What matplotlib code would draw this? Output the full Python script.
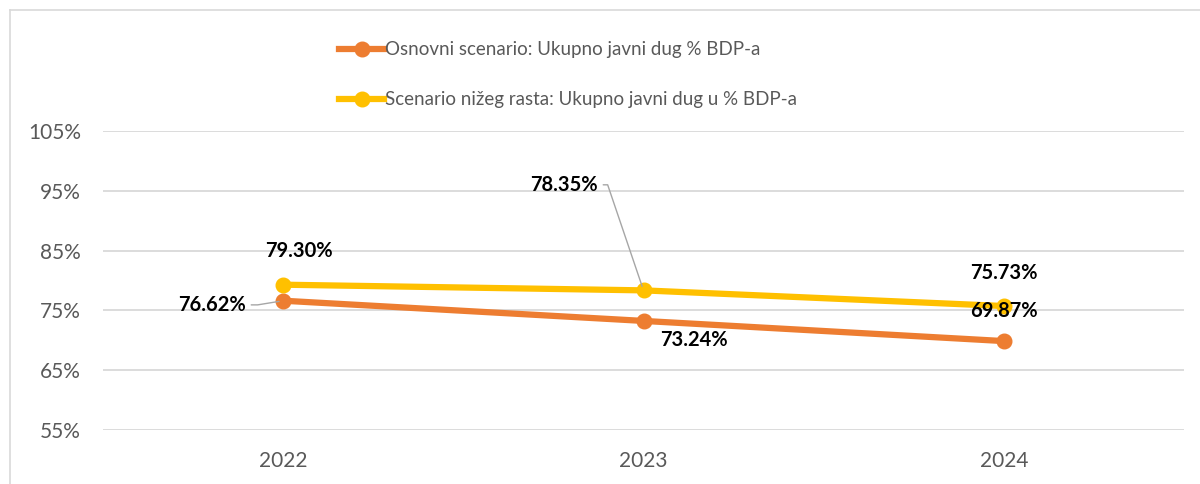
import matplotlib.pyplot as plt
from matplotlib.lines import Line2D
from matplotlib.ticker import FuncFormatter

plt.rcParams['font.family'] = ['Lato', 'DejaVu Sans']

years = ['2022', '2023', '2024']
osnovni = [76.62, 73.24, 69.87]
nizi_rast = [79.30, 78.35, 75.73]
y_ticks = [55, 65, 75, 85, 95, 105]

lab_osnovni = 'Osnovni scenario: Ukupno javni dug % BDP-a'
lab_nizi = 'Scenario nižeg rasta: Ukupno javni dug u % BDP-a'

orange = '#ED7D31'
yellow = '#FFC000'

fig = plt.figure(figsize=(12, 4.84), dpi=100)
ax = fig.add_axes([103/1200, 1-430/484, (1184-103)/1200, (430-131)/484])

x = list(range(len(years)))
ax.plot(x, osnovni, color=orange, lw=4.5, marker='o', ms=10.5, label=lab_osnovni, zorder=3)
ax.plot(x, nizi_rast, color=yellow, lw=4.5, marker='o', ms=10.5, label=lab_nizi, zorder=3)

ax.set_xlim(-0.5, 2.5)
ax.set_ylim(55, 105)
ax.set_yticks(y_ticks)
ax.yaxis.set_major_formatter(FuncFormatter(lambda v, p: f'{v:.0f}%'))
ax.set_xticks(x)
ax.set_xticklabels(years)
ax.grid(axis='y', color='#d9d9d9', lw=1.3)
ax.set_axisbelow(True)
for s in ax.spines.values():
    s.set_visible(False)
ax.tick_params(length=0, labelsize=15, labelcolor='#595959')
ax.tick_params(axis='y', pad=16)
ax.tick_params(axis='x', pad=15)

lbl = dict(fontsize=14.5, fontweight='bold', color='black', textcoords='offset points', zorder=5)
lead = dict(arrowstyle='-', color='#a6a6a6', lw=1, shrinkA=2, shrinkB=3)

# osnovni scenario labels
ax.annotate(f'{osnovni[0]:.2f}%', (0, osnovni[0]), xytext=(-27, -3), ha='right', va='center',
            arrowprops=dict(lead, relpos=(1, 0.5), connectionstyle='arc,angleA=0,armA=12,angleB=0,armB=0,rad=0'),
            **lbl)
ax.annotate(f'{osnovni[1]:.2f}%', (1, osnovni[1]), xytext=(36, -14), ha='center', va='center', **lbl)
ax.annotate(f'{osnovni[2]:.2f}%', (2, osnovni[2]), xytext=(0, 22), ha='center', va='center', **lbl)

# scenario nizeg rasta labels
ax.annotate(f'{nizi_rast[0]:.2f}%', (0, nizi_rast[0]), xytext=(11, 24), ha='center', va='center', **lbl)
ax.annotate(f'{nizi_rast[1]:.2f}%', (1, nizi_rast[1]), xytext=(-33, 76), ha='right', va='center',
            arrowprops=dict(lead, relpos=(1, 0.5), connectionstyle='arc,angleA=0,armA=10,angleB=0,armB=0,rad=0'),
            **lbl)
ax.annotate(f'{nizi_rast[2]:.2f}%', (2, nizi_rast[2]), xytext=(0, 24), ha='center', va='center', **lbl)

fig.legend(loc='upper left', bbox_to_anchor=(330/1200, 1-32/484), frameon=False,
           fontsize=13.5, labelcolor='#595959', handlelength=2.4, handletextpad=0.05,
           labelspacing=1.75, borderpad=0)

# chart border (top and left visible)
fig.add_artist(Line2D([10/1200, 1], [1-10/484, 1-10/484], color='#d9d9d9', lw=1.2))
fig.add_artist(Line2D([10/1200, 10/1200], [0, 1-10/484], color='#d9d9d9', lw=1.2))

fig.savefig('out.png', dpi=100)
